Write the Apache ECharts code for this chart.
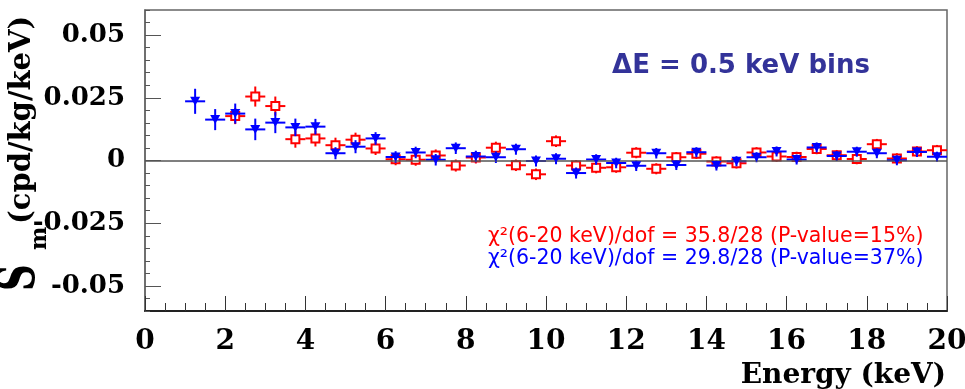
<!DOCTYPE html>
<html>
<head>
<meta charset="utf-8">
<script src="https://cdn.jsdelivr.net/npm/echarts@6/dist/echarts.min.js"></script>
<style>
  html, body { margin: 0; padding: 0; background: #fff; }
  #chart { width: 965px; height: 389px; }
</style>
</head>
<body>
<div id="chart"></div>
<script>
// bin centres (keV), 0.5 keV bins
const energy = [1.25, 1.75, 2.25, 2.75, 3.25, 3.75, 4.25, 4.75, 5.25, 5.75,
  6.25, 6.75, 7.25, 7.75, 8.25, 8.75, 9.25, 9.75, 10.25, 10.75,
  11.25, 11.75, 12.25, 12.75, 13.25, 13.75, 14.25, 14.75, 15.25, 15.75,
  16.25, 16.75, 17.25, 17.75, 18.25, 18.75, 19.25, 19.75]
const binHalf = 0.25

// red open squares
const redSm = [null, null, 0.0177, 0.0255, 0.0217, 0.0085, 0.0088, 0.0061, 0.0083, 0.0048,
  0.0005, 0.0003, 0.0020, -0.0020, 0.0012, 0.0051, -0.0019, -0.0055, 0.0077, -0.0020,
  -0.0029, -0.0027, 0.0031, -0.0033, 0.0013, 0.0027, -0.0004, -0.0011, 0.0032, 0.0016,
  0.0014, 0.0046, 0.0021, 0.0006, 0.0065, 0.0008, 0.0036, 0.0041]
const redErr = [null, null, 0.0032, 0.0040, 0.0038, 0.0034, 0.0032, 0.0030, 0.0028, 0.0026,
  0.0024, 0.0024, 0.0024, 0.0024, 0.0024, 0.0024, 0.0023, 0.0023, 0.0023, 0.0022,
  0.0022, 0.0022, 0.0022, 0.0022, 0.0021, 0.0021, 0.0021, 0.0021, 0.0021, 0.0021,
  0.0021, 0.0021, 0.0021, 0.0021, 0.0021, 0.0021, 0.0021, 0.0021]

// blue filled triangles
const blueSm = [0.0236, 0.0163, 0.0187, 0.0124, 0.0151, 0.0132, 0.0135, 0.0029, 0.0055, 0.0088,
  0.0014, 0.0032, 0.0003, 0.0049, 0.0016, 0.0013, 0.0045, -0.0002, 0.0007, -0.0050,
  0.0004, -0.0010, -0.0021, 0.0029, -0.0018, 0.0033, -0.0020, -0.0003, 0.0013, 0.0036,
  0.0004, 0.0052, 0.0018, 0.0035, 0.0029, 0.0001, 0.0034, 0.0015]
const blueErr = [0.0050, 0.0042, 0.0040, 0.0043, 0.0042, 0.0035, 0.0031, 0.0024, 0.0026, 0.0025,
  0.0023, 0.0023, 0.0023, 0.0023, 0.0023, 0.0023, 0.0022, 0.0022, 0.0022, 0.0022,
  0.0021, 0.0021, 0.0021, 0.0021, 0.0020, 0.0020, 0.0020, 0.0020, 0.0020, 0.0020,
  0.0020, 0.0020, 0.0020, 0.0020, 0.0020, 0.0020, 0.0020, 0.0020]

// axis ticks
const yMajorTicks = [-0.05, -0.025, 0, 0.025, 0.05]

const RED = '#ff0000'
const BLUE = '#0000ff'
const SERIF = '"DejaVu Serif", "Liberation Serif", serif'
const SANS = '"DejaVu Sans", Verdana, sans-serif'

// 组装数据
const toPoints = (vals, errs) => energy
  .map((e, i) => vals[i] === null ? null : [e, vals[i], errs[i]])
  .filter(p => p !== null)

const redPts = toPoints(redSm, redErr)
const bluePts = toPoints(blueSm, blueErr)

// error bars: horizontal = bin width, vertical = error
const errorBars = (color) => (params, api) => {
  const x = api.value(0)
  const y = api.value(1)
  const err = api.value(2)
  const l = api.coord([x - binHalf, y])
  const r = api.coord([x + binHalf, y])
  const lo = api.coord([x, y - err])
  const hi = api.coord([x, y + err])
  const style = { stroke: color, lineWidth: 2 }
  return {
    type: 'group',
    children: [
      { type: 'line', shape: { x1: l[0], y1: l[1], x2: r[0], y2: r[1] }, style },
      { type: 'line', shape: { x1: lo[0], y1: lo[1], x2: hi[0], y2: hi[1] }, style }
    ]
  }
}

const chart = echarts.init(document.getElementById('chart'))

const option = {
  animation: false,
  backgroundColor: '#fff',
  grid: {
    left: 145, right: 18, top: 10, bottom: 78,
    show: true, borderColor: '#666', borderWidth: 1.5,
    outerBoundsMode: 'none'
  },
  xAxis: {
    type: 'value',
    min: 0, max: 20, interval: 2,
    axisLine: { onZero: false, lineStyle: { color: '#222', width: 2 } },
    axisTick: { inside: true, length: 15, lineStyle: { color: '#333', width: 1 } },
    minorTick: { show: true, splitNumber: 4, length: 8, lineStyle: { color: '#333', width: 1 } },
    splitLine: { show: false },
    axisLabel: {
      margin: 17, color: '#000',
      fontFamily: SERIF, fontWeight: 'bold', fontSize: 28,
      showMinLabel: true, showMaxLabel: true
    }
  },
  yAxis: [
    {
      type: 'value',
      min: -0.06, max: 0.06,
      axisLine: { show: true, onZero: false, lineStyle: { color: '#666', width: 1.5 } },
      axisTick: { inside: true, length: 16, customValues: yMajorTicks, lineStyle: { color: '#555', width: 1 } },
      splitLine: { show: false },
      axisLabel: {
        customValues: yMajorTicks,
        margin: 20, color: '#000',
        fontFamily: SERIF, fontWeight: 'bold', fontSize: 26,
        formatter: v => String(v)
      }
    },
    {
      type: 'value',
      position: 'left',
      min: -0.06, max: 0.06, interval: 0.005,
      axisLine: { show: false, onZero: false },
      axisTick: { inside: true, length: 5, lineStyle: { color: '#555', width: 1 } },
      axisLabel: { show: false },
      splitLine: { show: false }
    }
  ],
  series: [
    {
      name: 'red-err',
      type: 'custom',
      renderItem: errorBars(RED),
      data: redPts,
      z: 2,
      markLine: {
        silent: true,
        symbol: 'none',
        label: { show: false },
        lineStyle: { color: '#555', width: 1.5, type: 'solid' },
        data: [{ yAxis: 0 }]
      }
    },
    {
      name: 'red',
      type: 'scatter',
      data: redPts.map(p => [p[0], p[1]]),
      symbol: 'rect',
      symbolSize: 8,
      itemStyle: { color: '#fff', borderColor: RED, borderWidth: 2, opacity: 1 },
      z: 3
    },
    {
      name: 'blue-err',
      type: 'custom',
      renderItem: errorBars(BLUE),
      data: bluePts,
      z: 4
    },
    {
      name: 'blue',
      type: 'scatter',
      data: bluePts.map(p => [p[0], p[1]]),
      symbol: 'triangle',
      symbolRotate: 180,
      symbolSize: [10, 9],
      itemStyle: { color: BLUE, opacity: 1 },
      z: 5
    }
  ],
  graphic: [
    // y axis title, rotated
    {
      type: 'text', x: 21, y: 291, rotation: Math.PI / 2, scaleY: 1.4,
      style: { text: 'S', font: 'bold 37px ' + SERIF, fill: '#000', align: 'left', verticalAlign: 'middle' }
    },
    {
      type: 'text', x: 40, y: 250, rotation: Math.PI / 2,
      style: { text: 'm', font: 'bold 22px ' + SERIF, fill: '#000', align: 'left', verticalAlign: 'middle' }
    },
    {
      type: 'text', x: 22, y: 224, rotation: Math.PI / 2,
      style: { text: '(cpd/kg/keV)', font: 'bold 29px ' + SERIF, fill: '#000', align: 'left', verticalAlign: 'middle' }
    },
    // x axis title
    {
      type: 'text', x: 946, y: 376,
      style: { text: 'Energy (keV)', font: 'bold 28px ' + SERIF, fill: '#000', align: 'right', verticalAlign: 'middle' }
    },
    // annotations
    {
      type: 'text', x: 741, y: 66,
      style: { text: 'ΔE = 0.5 keV bins', font: 'bold 26px ' + SANS, fill: '#333399', align: 'center', verticalAlign: 'middle' }
    },
    {
      type: 'text', x: 488, y: 237,
      style: { text: 'χ²(6-20 keV)/dof = 35.8/28 (P-value=15%)', font: '20.5px ' + SANS, fill: RED, align: 'left', verticalAlign: 'middle' }
    },
    {
      type: 'text', x: 488, y: 259,
      style: { text: 'χ²(6-20 keV)/dof = 29.8/28 (P-value=37%)', font: '20.5px ' + SANS, fill: BLUE, align: 'left', verticalAlign: 'middle' }
    }
  ]
}

chart.setOption(option)
</script>
</body>
</html>
